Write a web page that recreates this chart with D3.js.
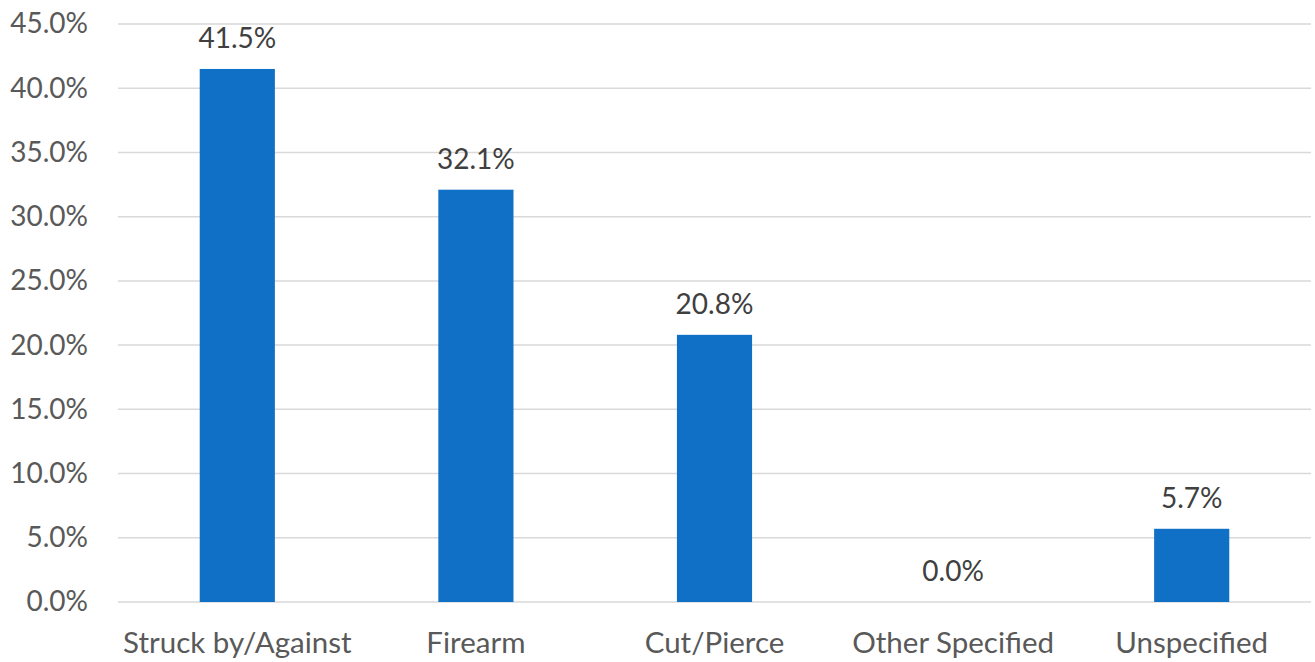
<!DOCTYPE html>
<html>
<head>
<meta charset="utf-8">
<script src="https://cdn.jsdelivr.net/npm/d3@7"></script>
<style>
  html, body { margin: 0; padding: 0; background: #fff; }
  svg text { font-family: Lato, "Noto Sans", sans-serif; }
</style>
</head>
<body>
<svg id="chart" width="1315" height="662"></svg>
<script>
// Share of injuries by mechanism (percent)
const categories = ["Struck by/Against", "Firearm", "Cut/Pierce", "Other Specified", "Unspecified"];
const shares = [41.5, 32.1, 20.8, 0.0, 5.7];
const tickValues = [0, 5, 10, 15, 20, 25, 30, 35, 40, 45];

const svg = d3.select("#chart");
const margin = { top: 24, right: 4, bottom: 60, left: 118 };
const width = 1315 - margin.left - margin.right;
const height = 662 - margin.top - margin.bottom;

const g = svg.append("g").attr("transform", `translate(${margin.left},${margin.top})`);

const x = d3.scaleBand()
  .domain(categories)
  .range([0, width])
  .paddingInner(0.685)
  .paddingOuter(0.3425);

const y = d3.scaleLinear().domain([0, 45]).range([height, 0]);

// horizontal gridlines
g.append("g")
  .selectAll("line")
  .data(tickValues)
  .join("line")
  .attr("x1", 0).attr("x2", width)
  .attr("y1", d => y(d)).attr("y2", d => y(d))
  .attr("stroke", "#d9d9d9")
  .attr("stroke-width", 1.5);

// y axis labels
const yAxis = d3.axisLeft(y)
  .tickValues(tickValues)
  .tickSize(0)
  .tickPadding(30)
  .tickFormat(d => d.toFixed(1) + "%");
const ya = g.append("g").call(yAxis);
ya.select(".domain").remove();
ya.selectAll("text")
  .attr("fill", "#595959")
  .attr("font-size", 28)
  .style("font-family", "Lato, 'Noto Sans', sans-serif");

// x axis labels
const xAxis = d3.axisBottom(x).tickSize(0).tickPadding(30);
const xa = g.append("g").attr("transform", `translate(0,${height})`).call(xAxis);
xa.select(".domain").remove();
xa.selectAll("text")
  .attr("fill", "#595959")
  .attr("font-size", 29.5)
  .style("font-family", "Lato, 'Noto Sans', sans-serif");

// bars
g.append("g")
  .selectAll("rect")
  .data(shares)
  .join("rect")
  .attr("x", (d, i) => x(categories[i]))
  .attr("width", x.bandwidth())
  .attr("y", d => y(d))
  .attr("height", d => y(0) - y(d))
  .attr("fill", "#1070c6");

// value labels
g.append("g")
  .selectAll("text")
  .data(shares)
  .join("text")
  .attr("x", (d, i) => x(categories[i]) + x.bandwidth() / 2)
  .attr("y", d => y(d) - 21)
  .attr("text-anchor", "middle")
  .attr("fill", "#404040")
  .attr("font-size", 28)
  .text(d => d.toFixed(1) + "%");
</script>
</body>
</html>
